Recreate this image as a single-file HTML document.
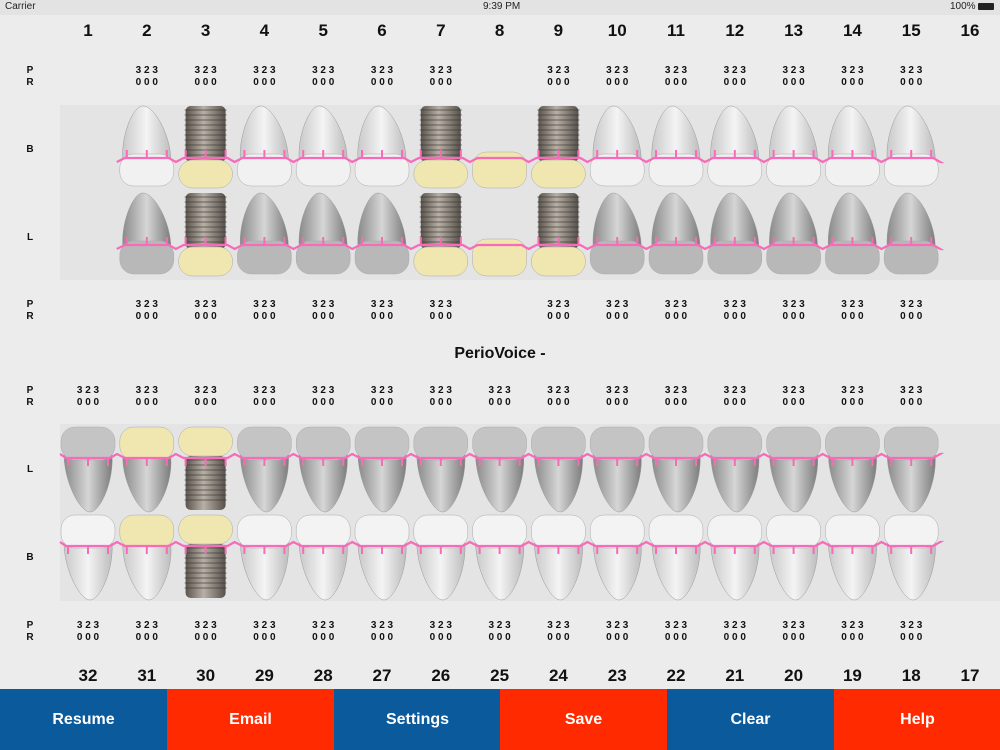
<!DOCTYPE html>
<html><head><meta charset="utf-8">
<style>
html,body{margin:0;padding:0;width:1000px;height:750px;overflow:hidden;background:#ececec;font-family:"Liberation Sans",sans-serif;}
#st{position:absolute;left:0;top:0;width:1000px;height:15px;background:#e3e3e3;font-size:10px;color:#222;}
svg{position:absolute;left:0;top:0}
.btn{position:absolute;top:689px;height:61px;width:167px;color:#fff;font-weight:bold;font-size:16px;text-align:center;line-height:61px}
</style></head><body>
<div id="st"><span style="position:absolute;left:5px;top:1px">Carrier</span><span style="position:absolute;left:483px;top:1px">9:39 PM</span><span style="position:absolute;left:950px;top:1px">100%</span><span style="position:absolute;left:978px;top:3px;width:16px;height:7px;background:#222;border-radius:1px"></span></div>
<svg id="s" width="1000" height="750" xmlns="http://www.w3.org/2000/svg"></svg>
<div class="btn" style="left:0;background:#0b5a9c">Resume</div>
<div class="btn" style="left:167px;background:#ff2a00">Email</div>
<div class="btn" style="left:334px;background:#0b5a9c">Settings</div>
<div class="btn" style="left:500px;background:#ff2a00">Save</div>
<div class="btn" style="left:667px;background:#0b5a9c">Clear</div>
<div class="btn" style="left:834px;background:#ff2a00">Help</div>
<script>
var s='';
function X(i){return 88+58.8*i;}
s+='<defs><linearGradient id="w" x1="0" x2="1"><stop offset="0" stop-color="#c9c9c9"/><stop offset="0.5" stop-color="#f4f4f4"/><stop offset="1" stop-color="#bdbdbd"/></linearGradient>'+
'<linearGradient id="g" x1="0" x2="1"><stop offset="0" stop-color="#8a8a8a"/><stop offset="0.5" stop-color="#d6d6d6"/><stop offset="1" stop-color="#7c7c7c"/></linearGradient>'+
'<linearGradient id="m" x1="0" x2="1"><stop offset="0" stop-color="#5a544e"/><stop offset="0.45" stop-color="#b8b0a6"/><stop offset="1" stop-color="#55504a"/></linearGradient></defs>';
s+='<rect x="60" y="105" width="940" height="175" fill="#e4e4e4"/><rect x="60" y="424" width="940" height="177" fill="#e4e4e4"/>';
function txt(x,y,t,sz,w,a){s+='<text x="'+x+'" y="'+y+'" font-size="'+sz+'" font-weight="'+(w||'normal')+'" text-anchor="'+(a||'middle')+'" fill="#111" font-family="Liberation Sans, sans-serif">'+t+'</text>';}
for(var i=0;i<16;i++){txt(X(i),36,String(i+1),17,'bold');txt(X(i),681,String(32-i),17,'bold');}
function pr(y,skip){txt(30,y,'P',10,'bold');txt(30,y+12,'R',10,'bold');for(var i=0;i<16;i++){if(skip.indexOf(i)>=0)continue;txt(X(i),y,'3 2 3',10,'bold');txt(X(i),y+12,'0 0 0',10,'bold');}}
pr(73,[0,7,15]);pr(307,[0,7,15]);pr(393,[15]);pr(628,[15]);
txt(30,152,'B',10,'bold');txt(30,240,'L',10,'bold');txt(30,472,'L',10,'bold');txt(30,560,'B',10,'bold');
txt(500,358,'PerioVoice -',16,'bold');
function root(cx,top,bot,fill,up){
  if(up){s+='<path d="M'+(cx-24)+' '+bot+' C'+(cx-26)+' '+(top+30)+' '+(cx-14)+' '+top+' '+(cx-4)+' '+top+' C'+(cx+8)+' '+top+' '+(cx+24)+' '+(top+30)+' '+(cx+24)+' '+bot+' Z" fill="'+fill+'" stroke="#999" stroke-width="0.5"/>';}
  else{s+='<path d="M'+(cx-24)+' '+top+' C'+(cx-24)+' '+(bot-30)+' '+(cx-8)+' '+bot+' '+(cx+2)+' '+bot+' C'+(cx+12)+' '+bot+' '+(cx+26)+' '+(bot-30)+' '+(cx+24)+' '+top+' Z" fill="'+fill+'" stroke="#999" stroke-width="0.5"/>';}
}
function crown(cx,y1,y2,fill){s+='<rect x="'+(cx-27)+'" y="'+y1+'" width="54" height="'+(y2-y1)+'" rx="14" fill="'+fill+'" stroke="#aaa" stroke-width="0.5"/>';}
function implant(cx,y1,y2){s+='<rect x="'+(cx-20)+'" y="'+y1+'" width="40" height="'+(y2-y1)+'" rx="5" fill="url(#m)"/>';for(var y=y1+4;y<y2-6;y+=5)s+='<line x1="'+(cx-21)+'" x2="'+(cx+21)+'" y1="'+y+'" y2="'+y+'" stroke="#3a3632" stroke-width="1.2" opacity="0.5"/>';}
var Y='#f0e6b0';
[[106,190,158,'url(#w)'],[193,278,245,'url(#g)']].forEach(function(r,ri){
 for(var i=0;i<16;i++){var cx=X(i);if(i==0||i==15)continue;
  var f=r[3];
  if(i==7){crown(cx,r[2]-6,r[1]-2,Y);}
  else if(i==2||i==6||i==8){implant(cx,r[0],r[2]+4);crown(cx,r[2]+2,r[1]-2,Y);}
  else{root(cx,r[0],r[2]+2,f,true);crown(cx,r[2]-4,r[1]-4,ri==0?'#f1f1f1':'#b8b8b8');}
 }
 gum(r[2],true);
});
[[425,512,458,'url(#g)','#c4c4c4'],[513,600,546,'url(#w)','#f3f3f3']].forEach(function(r){
 for(var i=0;i<16;i++){var cx=X(i);if(i==15)continue;
  if(i==1){crown(cx,r[0]+2,r[2]+2,Y);root(cx,r[2],r[1],r[3],false);}
  else if(i==2){implant(cx,r[2]-2,r[1]-2);crown(cx,r[0]+2,r[2]-2,Y);}
  else{root(cx,r[2]-4,r[1],r[3],false);crown(cx,r[0]+2,r[2]+2,r[4]);}
 }
 gum(r[2],false);
});
function gum(y,up){var d='',t='';
 var o=up?4:-4;
 var first=up?1:0;
 d='M'+(up?X(1)-30:60)+' '+(y+o);
 for(var i=first;i<15;i++){var cx=X(i);
  d+=' L'+(cx-22)+' '+y+' L'+(cx+22)+' '+y+' L'+(cx+29)+' '+(y+o);
  if(up&&i==7)continue;
  [-20,0,20].forEach(function(dx){var x=cx+dx;t+='<line x1="'+x+'" x2="'+x+'" y1="'+y+'" y2="'+(up?y-8:y+8)+'" stroke="#f76bb8" stroke-width="2"/>';});
 }
 d+=' L940 '+(y+o);
 s+='<path d="'+d+'" fill="none" stroke="#f76bb8" stroke-width="2.2"/>'+t;
}
document.getElementById('s').innerHTML=s;
</script>
</body></html>
